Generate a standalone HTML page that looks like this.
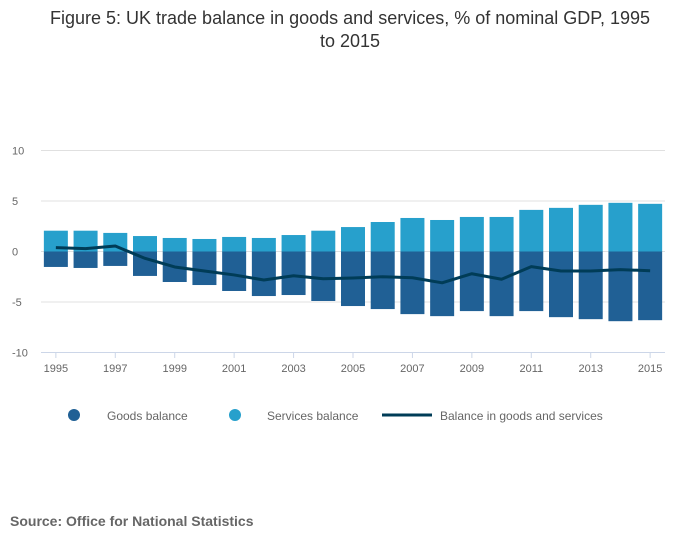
<!DOCTYPE html>
<html><head><meta charset="utf-8"><style>
body{margin:0;background:#fff;font-family:"Liberation Sans",sans-serif;}
#wrap{position:relative;width:700px;height:549px;overflow:hidden;}
</style></head><body>
<div id="wrap">
<svg id="chart" width="700" height="549">
<text x="350" y="24" text-anchor="middle" font-size="18" fill="#333">Figure 5: UK trade balance in goods and services, % of nominal GDP, 1995</text>
<text x="350" y="47" text-anchor="middle" font-size="18" fill="#333">to 2015</text>
<g id="grid"></g><g id="bars"></g><g id="line"></g><g id="axes"></g>
<g>
<circle cx="74" cy="415" r="6" fill="#206095"/>
<text x="107" y="420" font-size="12" fill="#666">Goods balance</text>
<circle cx="235" cy="415" r="6" fill="#27a0cc"/>
<text x="267" y="420" font-size="12" fill="#666">Services balance</text>
<line x1="382" y1="415" x2="432" y2="415" stroke="#003c57" stroke-width="3"/>
<text x="440" y="420" font-size="12" fill="#666">Balance in goods and services</text>
</g>
<text x="10" y="526" font-size="14" font-weight="bold" fill="#666">Source: Office for National Statistics</text>
</svg>
</div>
<script>
const years=[1995,1996,1997,1998,1999,2000,2001,2002,2003,2004,2005,2006,2007,2008,2009,2010,2011,2012,2013,2014,2015];
const goods=[-1.53,-1.63,-1.43,-2.42,-3.02,-3.32,-3.91,-4.41,-4.31,-4.9,-5.4,-5.7,-6.2,-6.4,-5.9,-6.4,-5.9,-6.5,-6.7,-6.9,-6.8];
const services=[2.06,2.06,1.84,1.53,1.34,1.24,1.44,1.34,1.63,2.06,2.42,2.92,3.32,3.12,3.42,3.42,4.12,4.32,4.62,4.82,4.72];
const balance=[0.38,0.28,0.54,-0.68,-1.53,-1.93,-2.32,-2.82,-2.4,-2.7,-2.62,-2.5,-2.6,-3.1,-2.2,-2.75,-1.5,-1.93,-1.93,-1.8,-1.9];
const yTicks=[10,5,0,-5,-10];
const xTickLabels=["1995","1997","1999","2001","2003","2005","2007","2009","2011","2013","2015"];
const NS="http://www.w3.org/2000/svg";
const L=41,R=665,band=(R-L)/years.length;
function x(i){return L+band*(i+0.5);}
function y(v){return 251.5-v*10.1;}
function mk(p,t,a){const e=document.createElementNS(NS,t);for(const k in a)e.setAttribute(k,a[k]);p.appendChild(e);return e;}
const grid=document.getElementById('grid'),bars=document.getElementById('bars'),ln=document.getElementById('line'),axes=document.getElementById('axes');
yTicks.forEach(t=>{
 const g=mk(grid,'line',{x1:L,x2:R,y1:y(t),y2:y(t),stroke:t===-10?'#ccd6e8':'#e0e0e0','stroke-width':1});
 
 
 const tx=mk(axes,'text',{x:12,y:y(t)+4,'font-size':11,fill:'#666'});tx.textContent=t;
 
 
});
const bw=24;
years.forEach((yr,i)=>{
 const s=mk(bars,'rect',{x:x(i)-bw/2,y:y(services[i]),width:bw,height:y(0)-y(services[i]),fill:'#27a0cc'});
 
 
 const g=mk(bars,'rect',{x:x(i)-bw/2,y:y(0),width:bw,height:y(goods[i])-y(0),fill:'#206095'});
 
 
});
const p=mk(ln,'polyline',{points:balance.map((v,i)=>x(i)+','+y(v)).join(' '),fill:'none',stroke:'#003c57','stroke-width':3,'stroke-linejoin':'round'});


years.forEach((yr,i)=>{
 if(!xTickLabels.includes(String(yr)))return;
 const t=mk(axes,'line',{x1:x(i),x2:x(i),y1:352,y2:358,stroke:'#ccd6e8'});
 
 
 const tx=mk(axes,'text',{x:x(i),y:372,'text-anchor':'middle','font-size':11,fill:'#666'});tx.textContent=yr;
 
 
});
</script>
</body></html>
